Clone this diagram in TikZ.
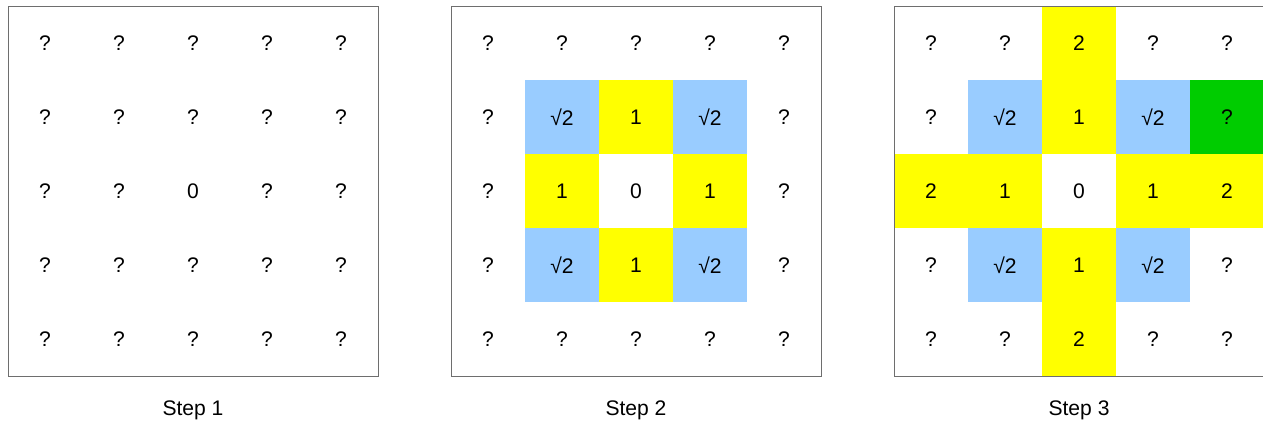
\documentclass[tikz,border=0pt]{standalone}
\usepackage{fontspec}
\setmainfont{Liberation Sans}
\usetikzlibrary{positioning, calc}
\definecolor{cellblue}{RGB}{153, 204, 255}
\definecolor{cellyellow}{RGB}{255, 255, 0}
\definecolor{cellgreen}{RGB}{0, 204, 0}
\definecolor{framegray}{RGB}{110, 110, 110}

\begin{document}
\begin{tikzpicture}[
    frame/.style={rectangle, draw=none, minimum size=7.4cm, inner sep=0pt, outer sep=0pt},
    cell/.style={rectangle, minimum size=1.48cm, inner sep=0pt, font=\fontsize{12}{14}\selectfont},
    steplabel/.style={font=\fontsize{12}{14}\selectfont}
]
\useasboundingbox (0,0) rectangle (25.26,-8.44);

% Frames
\node[frame, anchor=north west] (f1) at (0.16,-0.12) {};
\node[frame, right=1.46cm of f1] (f2) {};
\node[frame, right=1.46cm of f2] (f3) {};

% Step 1
\foreach [count=\i from 0] \t/\f in {?/none,?/none,?/none,?/none,?/none,
    ?/none,?/none,?/none,?/none,?/none,
    ?/none,?/none,0/none,?/none,?/none,
    ?/none,?/none,?/none,?/none,?/none,
    ?/none,?/none,?/none,?/none,?/none} {
  \pgfmathtruncatemacro\r{div(\i,5)}
  \pgfmathtruncatemacro\c{mod(\i,5)}
  \node[cell, fill=\f] (a-\r-\c) at ($(f1.north west)+(\c*1.48+0.74,-\r*1.48-0.74)$) {\t};
}

% Step 2
\foreach [count=\i from 0] \t/\f in {?/none,?/none,?/none,?/none,?/none,
    ?/none,√2/cellblue,1/cellyellow,√2/cellblue,?/none,
    ?/none,1/cellyellow,0/none,1/cellyellow,?/none,
    ?/none,√2/cellblue,1/cellyellow,√2/cellblue,?/none,
    ?/none,?/none,?/none,?/none,?/none} {
  \pgfmathtruncatemacro\r{div(\i,5)}
  \pgfmathtruncatemacro\c{mod(\i,5)}
  \node[cell, fill=\f] (b-\r-\c) at ($(f2.north west)+(\c*1.48+0.74,-\r*1.48-0.74)$) {\t};
}

% Step 3
\foreach [count=\i from 0] \t/\f in {?/none,?/none,2/cellyellow,?/none,?/none,
    ?/none,√2/cellblue,1/cellyellow,√2/cellblue,?/cellgreen,
    2/cellyellow,1/cellyellow,0/none,1/cellyellow,2/cellyellow,
    ?/none,√2/cellblue,1/cellyellow,√2/cellblue,?/none,
    ?/none,?/none,2/cellyellow,?/none,?/none} {
  \pgfmathtruncatemacro\r{div(\i,5)}
  \pgfmathtruncatemacro\c{mod(\i,5)}
  \node[cell, fill=\f] (c-\r-\c) at ($(f3.north west)+(\c*1.48+0.74,-\r*1.48-0.74)$) {\t};
}

% Borders over the fills
\foreach \n in {f1,f2,f3}
  \draw[framegray, line width=0.5pt] (\n.north west) rectangle (\n.south east);

% Captions
\node[steplabel] (s1) at ($(f1.south)+(0,-0.68)$) {Step 1};
\node[steplabel] (s2) at ($(f2.south)+(0,-0.68)$) {Step 2};
\node[steplabel] (s3) at ($(f3.south)+(0,-0.68)$) {Step 3};

\end{tikzpicture}
\end{document}
